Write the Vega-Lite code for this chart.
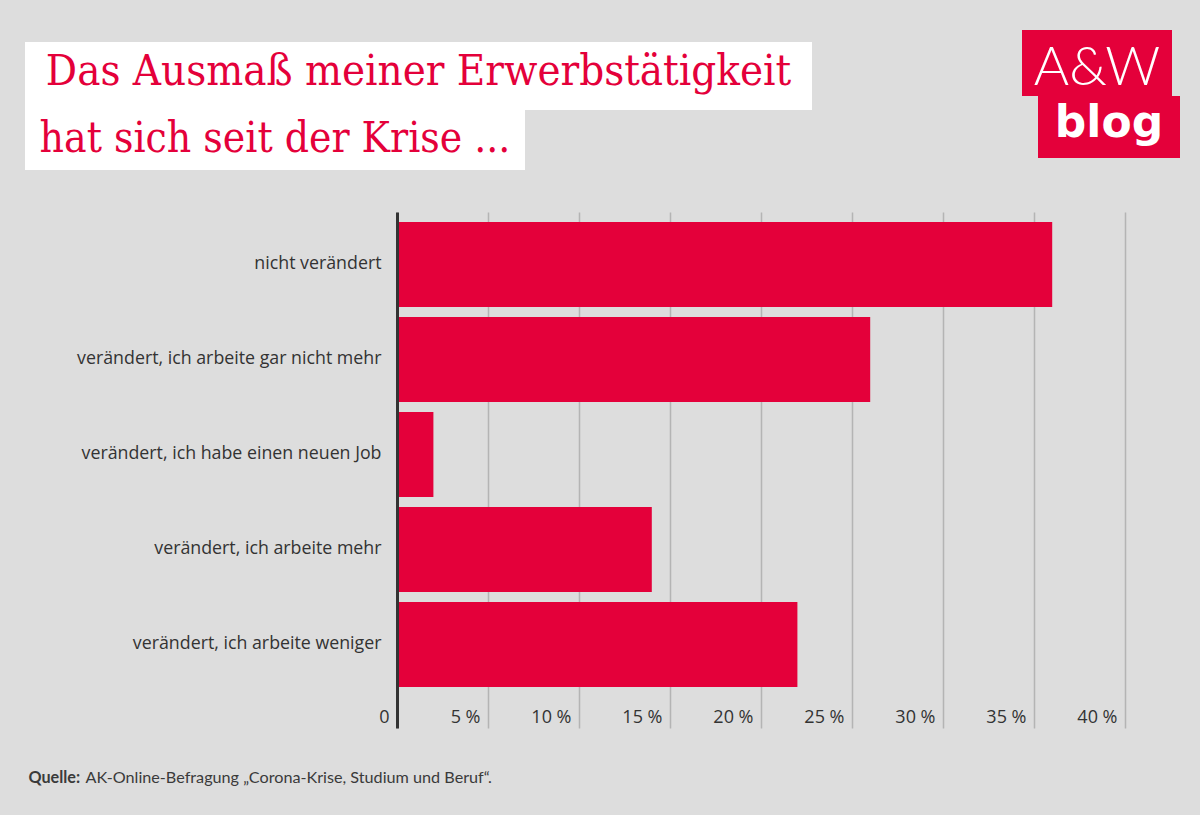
{
  "$schema": "https://vega.github.io/schema/vega-lite/v6.json",
  "background": "#dddddd",
  "padding": {"top": 30, "left": 25, "right": 20, "bottom": 26},
  "config": {"view": {"stroke": null}, "concat": {"spacing": 0}},
  "spacing": 42,
  "vconcat": [
    {
      "spacing": 210,
      "hconcat": [
        {
          "spacing": 0,
          "vconcat": [
            {"width": 787, "height": 12, "data": {"values": [{}]}, "mark": {"type": "text", "text": ""}},
            {
              "width": 787, "height": 68,
              "view": {"fill": "#ffffff", "stroke": null},
              "data": {"values": [{"t": "Das Ausmaß meiner Erwerbstätigkeit"}]},
              "mark": {"type": "text", "font": "DejaVu Serif Condensed", "fontSize": 43.4, "color": "#e4003a", "baseline": "alphabetic", "dy": 9},
              "encoding": {"text": {"field": "t", "type": "nominal"}}
            },
            {
              "width": 500, "height": 60,
              "view": {"fill": "#ffffff", "stroke": null},
              "data": {"values": [{"t": "hat sich seit der Krise ..."}]},
              "mark": {"type": "text", "font": "DejaVu Serif Condensed", "fontSize": 42.2, "color": "#e4003a", "baseline": "alphabetic", "dy": 12},
              "encoding": {"text": {"field": "t", "type": "nominal"}}
            }
          ]
        },
        {
          "spacing": 0,
          "vconcat": [
            {
              "width": 150, "height": 66,
              "view": {"fill": "#e4003a", "stroke": null},
              "data": {"values": [{"t": "A&W"}]},
              "mark": {"type": "text", "font": "Lato", "fontWeight": 300, "fontSize": 54, "color": "#ffffff", "baseline": "alphabetic", "dy": 22},
              "encoding": {"text": {"field": "t", "type": "nominal"}}
            },
            {
              "spacing": 0,
              "hconcat": [
                {"width": 16, "height": 62, "data": {"values": [{}]}, "mark": {"type": "text", "text": ""}},
                {
                  "width": 142, "height": 62,
                  "view": {"fill": "#e4003a", "stroke": null},
                  "data": {"values": [{"t": "blog"}]},
                  "mark": {"type": "text", "font": "DejaVu Sans", "fontWeight": "bold", "fontSize": 44, "color": "#ffffff", "baseline": "alphabetic", "dy": 10},
                  "encoding": {"text": {"field": "t", "type": "nominal"}}
                }
              ]
            }
          ]
        }
      ]
    },
    {
      "width": 1101,
      "height": 516,
      "data": {
        "values": [
          {"antwort": "nicht verändert", "anteil": 36},
          {"antwort": "verändert, ich arbeite gar nicht mehr", "anteil": 26},
          {"antwort": "verändert, ich habe einen neuen Job", "anteil": 2},
          {"antwort": "verändert, ich arbeite mehr", "anteil": 14},
          {"antwort": "verändert, ich arbeite weniger", "anteil": 22}
        ]
      },
      "mark": {"type": "bar", "color": "#e4003a"},
      "encoding": {
        "y": {
          "field": "antwort", "type": "nominal", "sort": null,
          "scale": {"paddingInner": 0.10526, "paddingOuter": 0.2684, "align": 0.196},
          "axis": {
            "title": null, "orient": "left", "offset": -372, "zindex": 1,
            "domain": true, "domainColor": "#333333", "domainWidth": 3,
            "ticks": false, "tickSize": 0, "grid": false,
            "labelPadding": 16, "labelLimit": 400,
            "labelFont": "Open Sans", "labelFontSize": 17.8, "labelColor": "#333333"
          }
        },
        "x": {
          "field": "anteil", "type": "quantitative",
          "scale": {"domain": [0, 40], "range": [372, 1100], "nice": false, "zero": true},
          "axis": {
            "title": null, "orient": "bottom",
            "values": [0, 5, 10, 15, 20, 25, 30, 35, 40],
            "labelExpr": "datum.value == 0 ? '0' : datum.value + ' %'",
            "domain": false, "ticks": false, "tickSize": 0,
            "grid": true, "gridColor": "#b4b4b4", "gridWidth": 1.5,
            "labelAlign": "right", "labelOffset": -8, "labelBaseline": "alphabetic",
            "labelPadding": -6, "labelFlush": false,
            "labelFont": "Open Sans", "labelFontSize": 18, "labelColor": "#333333"
          }
        }
      }
    },
    {
      "spacing": 1,
      "hconcat": [
        {
          "width": 1, "height": 18,
          "data": {"values": [{"t": "Quelle:"}]},
          "mark": {"type": "text", "font": "Lato", "fontWeight": "bold", "fontSize": 16.2, "color": "#3a3a3a", "align": "left", "baseline": "middle", "dx": 3, "dy": -2},
          "encoding": {"text": {"field": "t", "type": "nominal"}}
        },
        {
          "width": 1, "height": 18,
          "data": {"values": [{"t": "AK-Online-Befragung „Corona-Krise, Studium und Beruf“."}]},
          "mark": {"type": "text", "font": "Lato", "fontSize": 16.2, "color": "#3a3a3a", "align": "left", "baseline": "middle", "dx": 3, "dy": -2},
          "encoding": {"text": {"field": "t", "type": "nominal"}}
        }
      ]
    }
  ]
}
